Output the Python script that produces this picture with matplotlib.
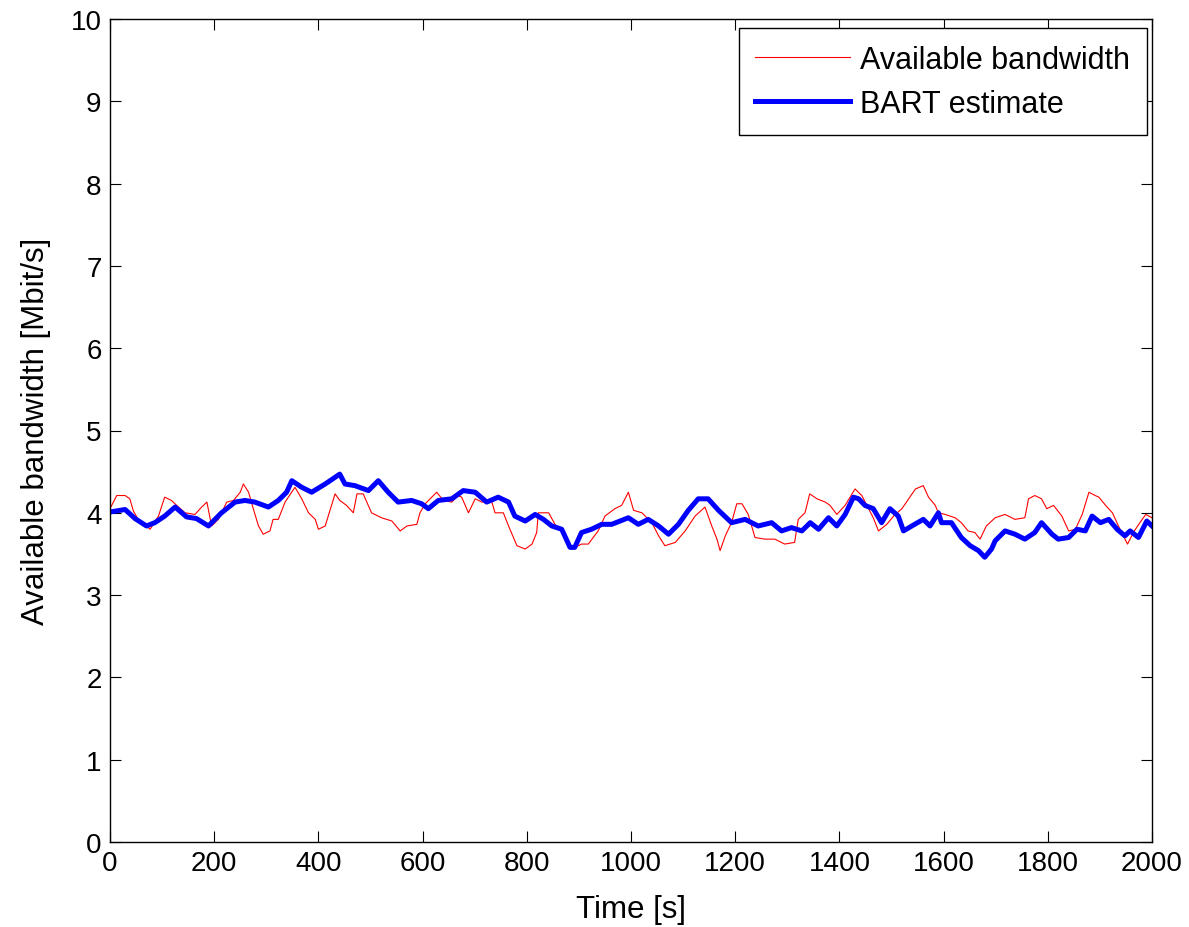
import matplotlib
matplotlib.use("Agg")
import matplotlib.pyplot as plt

plt.rcParams['font.family'] = ['Liberation Sans', 'DejaVu Sans']

# Available bandwidth (red, thin)
t_avail = [0, 13, 29, 38, 45, 54, 77, 93, 105, 118, 128, 144, 163, 176, 186, 195,
           208, 224, 237, 250, 256, 266, 275, 285, 294, 307, 313, 323, 336, 355,
           368, 381, 394, 400, 413, 432, 441, 454, 467, 474, 486, 502, 521, 541,
           557, 570, 589, 595, 605, 627, 640, 656, 668, 675, 688, 701, 714, 733,
           739, 755, 765, 781, 797, 810, 819, 822, 842, 854, 874, 887, 905, 918,
           937, 950, 969, 982, 995, 1005, 1021, 1040, 1053, 1065, 1085, 1104,
           1123, 1142, 1155, 1165, 1171, 1181, 1193, 1203, 1213, 1225, 1238,
           1257, 1276, 1295, 1314, 1321, 1334, 1343, 1357, 1373, 1382, 1395,
           1411, 1430, 1443, 1456, 1465, 1475, 1491, 1504, 1520, 1533, 1546,
           1561, 1571, 1584, 1590, 1603, 1622, 1634, 1647, 1660, 1670, 1682,
           1699, 1718, 1737, 1756, 1763, 1775, 1788, 1798, 1811, 1827, 1840,
           1853, 1866, 1879, 1891, 1898, 1911, 1924, 1940, 1953, 1966, 1979,
           1988, 2000]
bw_avail = [4.05, 4.21, 4.21, 4.17, 4.02, 3.92, 3.80, 3.96, 4.19, 4.15, 4.09, 4.00,
            3.98, 4.07, 4.13, 3.84, 3.92, 4.13, 4.15, 4.25, 4.35, 4.25, 4.05, 3.84,
            3.74, 3.78, 3.92, 3.92, 4.13, 4.31, 4.17, 4.00, 3.92, 3.80, 3.84, 4.23,
            4.15, 4.09, 4.00, 4.23, 4.23, 4.00, 3.94, 3.90, 3.78, 3.84, 3.86, 4.00,
            4.11, 4.25, 4.15, 4.13, 4.21, 4.19, 4.00, 4.17, 4.13, 4.13, 4.00, 4.00,
            3.84, 3.60, 3.56, 3.62, 3.76, 4.00, 4.00, 3.86, 3.74, 3.56, 3.62, 3.62,
            3.78, 3.96, 4.05, 4.09, 4.25, 4.03, 4.00, 3.88, 3.72, 3.60, 3.64, 3.78,
            3.96, 4.07, 3.84, 3.68, 3.54, 3.72, 3.88, 4.11, 4.11, 3.98, 3.70, 3.68,
            3.68, 3.62, 3.64, 3.92, 4.00, 4.23, 4.17, 4.13, 4.09, 3.98, 4.09, 4.29,
            4.21, 4.05, 3.94, 3.78, 3.86, 3.96, 4.05, 4.17, 4.29, 4.33, 4.19, 4.09,
            4.00, 3.98, 3.94, 3.88, 3.78, 3.76, 3.68, 3.84, 3.94, 3.98, 3.92, 3.94,
            4.17, 4.21, 4.17, 4.05, 4.09, 3.96, 3.78, 3.80, 3.98, 4.25, 4.21, 4.19,
            4.09, 4.00, 3.78, 3.62, 3.78, 3.90, 3.98, 3.94]

# BART estimate (blue, thick)
t_bart = [0, 29, 48, 70, 86, 105, 125, 147, 166, 189, 214, 240, 259, 278, 304, 323,
          339, 349, 368, 387, 413, 441, 451, 470, 496, 515, 534, 553, 579, 598, 611,
          630, 656, 678, 701, 723, 745, 765, 777, 797, 816, 832, 848, 867, 883, 892,
          905, 924, 944, 963, 995, 1014, 1033, 1053, 1072, 1091, 1110, 1129, 1148,
          1168, 1193, 1219, 1244, 1270, 1289, 1308, 1328, 1344, 1360, 1379, 1395,
          1411, 1427, 1437, 1449, 1465, 1481, 1497, 1513, 1523, 1539, 1561, 1574,
          1590, 1596, 1615, 1634, 1651, 1667, 1679, 1692, 1699, 1718, 1737, 1756,
          1775, 1788, 1808, 1820, 1840, 1856, 1872, 1885, 1901, 1917, 1933, 1948,
          1958, 1974, 1990, 2000]
bw_bart = [4.01, 4.04, 3.93, 3.84, 3.88, 3.96, 4.07, 3.95, 3.93, 3.84, 4.00, 4.13,
           4.15, 4.13, 4.07, 4.15, 4.25, 4.39, 4.31, 4.25, 4.35, 4.47, 4.35, 4.33,
           4.27, 4.39, 4.25, 4.13, 4.15, 4.11, 4.05, 4.15, 4.17, 4.27, 4.25, 4.13,
           4.19, 4.13, 3.96, 3.90, 3.98, 3.92, 3.84, 3.80, 3.58, 3.58, 3.76, 3.80,
           3.86, 3.86, 3.94, 3.86, 3.92, 3.84, 3.74, 3.86, 4.03, 4.17, 4.17, 4.03,
           3.88, 3.92, 3.84, 3.88, 3.78, 3.82, 3.78, 3.88, 3.80, 3.94, 3.84, 3.98,
           4.19, 4.17, 4.09, 4.05, 3.88, 4.05, 3.96, 3.78, 3.84, 3.92, 3.84, 4.00,
           3.88, 3.88, 3.70, 3.60, 3.54, 3.46, 3.56, 3.66, 3.78, 3.74, 3.68, 3.76,
           3.88, 3.74, 3.68, 3.70, 3.80, 3.78, 3.96, 3.88, 3.92, 3.80, 3.72, 3.78,
           3.70, 3.90, 3.84]

x_ticks = list(range(0, 2001, 200))
y_ticks = list(range(0, 11))

fig = plt.figure(figsize=(11.89, 9.28), dpi=100)
ax = fig.add_axes([110 / 1189, 85 / 928, 1042 / 1189, 823 / 928])

ax.plot(t_avail, bw_avail, color='#ff0000', linewidth=0.8, label='Available bandwidth')
ax.plot(t_bart, bw_bart, color='#0000ff', linewidth=3.6, label='BART estimate')

ax.set_xlim(0, 2000)
ax.set_ylim(0, 10)
ax.set_xticks(x_ticks)
ax.set_yticks(y_ticks)
ax.tick_params(direction='in', top=True, right=True, length=8, width=0.8,
               labelsize=20, pad=6)
for s in ax.spines.values():
    s.set_linewidth(1.0)

ax.set_xlabel('Time [s]', fontsize=22.5, labelpad=13)
ax.set_ylabel('Available bandwidth [Mbit/s]', fontsize=22.5, labelpad=14)

# legend box: right edge at 1147 px, top at 29 px
leg = ax.legend(loc='upper right', bbox_to_anchor=(1147 / 1189, 1 - 29 / 928),
                bbox_transform=fig.transFigure, borderaxespad=0,
                fontsize=22, fancybox=False, framealpha=1,
                edgecolor='black', handlelength=3.1, handletextpad=0.33,
                labelspacing=0.45, borderpad=0.55)
leg.get_frame().set_linewidth(1.0)

fig.savefig('out.png', dpi=100)
